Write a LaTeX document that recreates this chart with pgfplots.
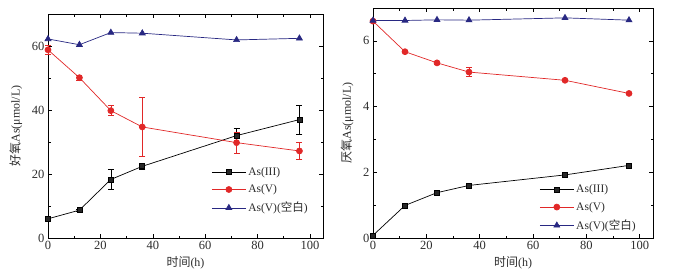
\documentclass[border=0pt]{standalone}
\usepackage{pgfplots}
\pgfplotsset{compat=1.18}
\usepackage{fontspec}
\setmainfont{Liberation Serif}
\newfontfamily\cjk{Noto Sans CJK SC}
\definecolor{myred}{RGB}{225,40,40}
\definecolor{mynavy}{RGB}{40,40,130}
\definecolor{txt}{RGB}{45,45,45}
\pgfplotsset{
  myaxis/.style={
    scale only axis,
    axis line style={black, line width=0.6pt},
    tick align=inside,
    major tick length=4pt, minor tick length=2.5pt,
    minor tick num=1,
    tick style={black, line width=0.5pt},
    xmin=0, xmax=105,
    xtick={0,20,...,100},
    clip=false,
    /pgf/number format/assume math mode=true,
    tick label style={font=\fontsize{12.5}{14}\selectfont, text=txt},
    label style={font=\fontsize{12}{14}\selectfont, text=txt},
    ylabel style={yshift=3pt},
    legend style={draw=none, fill=none, font=\fontsize{11.5}{13}\selectfont, text=txt,
      row sep=4pt, inner sep=1pt, legend cell align=left},
    legend image code/.code={\draw[mark repeat=2,mark phase=2] plot coordinates {(0cm,0cm)(0.6cm,0cm)(1.2cm,0cm)};},
    xlabel={{\cjk 时间}(h)},
    every axis plot/.append style={line width=0.7pt},
    error bars/error bar style={line width=0.7pt},
    error bars/error mark options={rotate=90, mark size=3pt, line width=0.7pt},
  },
  s3/.style={black, mark=square*, mark size=2.5pt, mark options={fill=black!85}},
  s5/.style={myred, mark=*, mark size=3pt, mark options={fill=myred}},
  sb/.style={mynavy, mark=triangle*, mark size=3.4pt, mark options={fill=mynavy}},
}
\begin{document}
\begin{tikzpicture}
\path[use as bounding box] (0,0) rectangle (697pt,279pt);
\begin{axis}[myaxis, at={(48pt,41pt)}, anchor=south west,
  width=275pt, height=224pt,
  ymin=0, ymax=70, ytick={0,20,40,60},
  ylabel={{\cjk 好氧}As(μmol/L)},
  legend style={at={(0.59,0.33)}, anchor=north west}]
\addplot+[s3, error bars/.cd, y dir=both, y explicit] coordinates {
 (0,6.0) +- (0,0.4) (12,8.7) +- (0,0.4) (24,18.3) +- (0,3.0) (36,22.4) +- (0,1.0) (72,32.0) +- (0,2.2) (96,37.0) +- (0,4.5)};
\addplot+[s5, error bars/.cd, y dir=both, y explicit] coordinates {
 (0,58.8) +- (0,1.5) (12,50.1) +- (0,0.8) (24,39.8) +- (0,1.5) (36,34.7) +- (0,9.3) (72,29.8) +- (0,3.2) (96,27.2) +- (0,2.7)};
\addplot+[sb] coordinates {(0,62.2) (12,60.4) (24,64.2) (36,64.0) (72,61.9) (96,62.4)};
\legend{As(III), As(V), As(V)({\cjk 空白})}
\end{axis}
\begin{axis}[myaxis, at={(373pt,41pt)}, anchor=south west,
  width=280pt, height=230pt,
  ymin=0, ymax=7, ytick={0,2,4,6}, minor ytick={1,3,5},
  ylabel={{\cjk 厌氧}As(μmol/L)},
  legend style={at={(0.59,0.245)}, anchor=north west}]
\addplot+[s3, error bars/.cd, y dir=both, y explicit] coordinates {
 (0,0.08) +- (0,0.02) (12,0.99) +- (0,0.03) (24,1.38) +- (0,0.03) (36,1.6) +- (0,0.07) (72,1.92) +- (0,0.03) (96,2.21) +- (0,0.03)};
\addplot+[s5, error bars/.cd, y dir=both, y explicit] coordinates {
 (0,6.6) +- (0,0.05) (12,5.67) +- (0,0.03) (24,5.33) +- (0,0.03) (36,5.05) +- (0,0.13) (72,4.8) +- (0,0.03) (96,4.4) +- (0,0.03)};
\addplot+[sb] coordinates {(0,6.62) (12,6.62) (24,6.64) (36,6.63) (72,6.7) (96,6.63)};
\legend{As(III), As(V), As(V)({\cjk 空白})}
\end{axis}
\end{tikzpicture}
\end{document}
